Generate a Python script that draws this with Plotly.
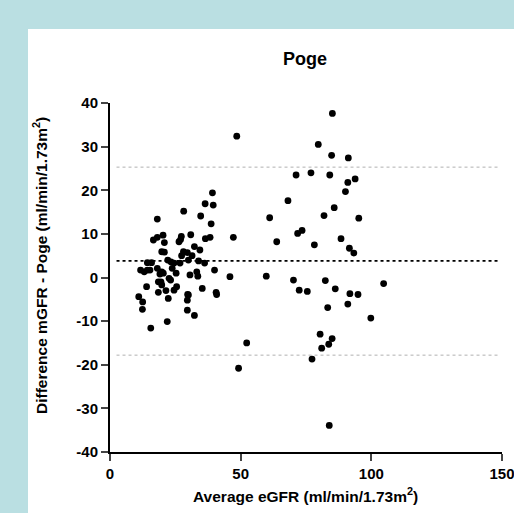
import plotly.graph_objects as go

# Average eGFR (x) and difference mGFR - Poge (y)
left_x = [39.2, 36.4, 39.5, 28.2, 18.1, 34.7, 38.7, 30.9, 27.3, 27.0, 20.3, 18.1, 16.6, 20.8, 36.5, 38.3,
          26.4, 32.3, 34.4, 19.8, 20.8, 28.1, 29.6, 27.4, 31.4, 22.1, 23.3, 26.8, 24.5, 30.0, 33.9, 36.2,
          14.3, 15.9, 40.0, 11.7, 13.1, 14.3, 15.3, 18.1, 23.8, 25.3, 22.6, 23.2, 30.6, 33.2, 33.6, 19.8,
          19.1, 20.4, 18.5, 19.5, 19.8, 14.0, 25.5, 35.3, 24.5, 21.4, 18.5, 40.6, 40.8, 30.0, 29.6, 22.3,
          11.0, 12.5, 12.4, 29.6, 32.3, 21.9, 15.6, 29.7]
left_y = [19.4, 16.9, 16.6, 15.2, 13.4, 14.1, 12.3, 9.8, 9.4, 8.7, 9.7, 9.2, 8.6, 8.0, 8.9, 9.2,
          8.2, 7.1, 6.3, 5.9, 5.8, 5.9, 5.7, 5.0, 5.0, 4.0, 3.6, 3.3, 3.3, 4.0, 3.8, 3.3,
          3.4, 3.4, 1.7, 1.7, 1.3, 1.7, 1.7, 2.1, 2.1, 1.0, -0.2, -0.6, 0.6, 1.3, 0.3, 1.3,
          0.8, 1.0, -1.0, -1.0, -1.7, -2.1, -2.1, -2.5, -2.9, -3.0, -3.4, -3.4, -3.9, -4.0, -5.2, -4.8,
          -4.4, -5.6, -7.3, -7.5, -8.7, -10.1, -11.6, -3.9]

mid_x = [48.5, 47.2, 45.9, 52.3, 49.2]
mid_y = [32.4, 9.2, 0.2, -15.0, -20.8]

right_x = [85.1, 79.7, 84.8, 91.2, 71.2, 76.9, 84.1, 93.8, 91.0, 90.1, 68.1, 85.8, 61.1, 81.9, 95.2,
           71.8, 73.5, 63.8, 78.2, 88.4, 91.6, 93.3, 59.8, 70.2, 72.4, 75.5, 82.4, 86.2, 104.7, 91.8,
           94.9, 91.0, 83.3, 99.8, 80.4, 85.0, 83.7, 81.0, 77.3, 83.9]
right_y = [37.6, 30.5, 28.0, 27.4, 23.5, 24.0, 23.5, 22.6, 21.8, 19.7, 17.6, 16.0, 13.7, 14.2, 13.6,
           10.1, 10.8, 8.2, 7.5, 8.9, 6.7, 5.6, 0.3, -0.6, -2.9, -3.2, -0.7, -2.6, -1.4, -3.7,
           -3.9, -6.1, -6.9, -9.3, -13.0, -14.0, -15.3, -16.2, -18.7, -33.9]

avg_egfr = left_x + mid_x + right_x
diff = left_y + mid_y + right_y

bias = 3.8
upper_loa = 25.3
lower_loa = -17.8
line_x = [2.5, 149.0]

x_ticks = [0, 50, 100, 150]
y_ticks = [-40, -30, -20, -10, 0, 10, 20, 30, 40]
y_tick_labels = ["-40", "-30", "-20", "-10", "0", "10", "20", "30", "40"]

title_text = "Poge"
x_title = "Average eGFR (ml/min/1.73m<sup>2</sup>)"
y_title = "Difference mGFR - Poge (ml/min/1.73m<sup>2</sup>)"

W, H = 514, 513
ML, MR, MT, MB = 110, 12, 103, 61
pw = W - ML - MR
ph = H - MT - MB


def px_x(p):
    return (p - ML) / pw


def px_y(p):
    return (MT + ph - p) / ph


fnt = dict(family="Liberation Sans, Arial, sans-serif", color="black")

fig = go.Figure()
fig.add_trace(go.Scatter(x=line_x, y=[upper_loa, upper_loa], mode="lines",
                         line=dict(color="#b0b0b0", width=1, dash="dot"), hoverinfo="skip"))
fig.add_trace(go.Scatter(x=line_x, y=[lower_loa, lower_loa], mode="lines",
                         line=dict(color="#b0b0b0", width=1, dash="dot"), hoverinfo="skip"))
fig.add_trace(go.Scatter(x=line_x, y=[bias, bias], mode="lines",
                         line=dict(color="black", width=1.6, dash="dot"), hoverinfo="skip"))
fig.add_trace(go.Scatter(x=avg_egfr, y=diff, mode="markers",
                         marker=dict(color="black", size=6.8)))

# white panel: left edge at px 28, top edge at px 29, to the right/bottom of the figure
fig.add_shape(type="rect", xref="paper", yref="paper",
              x0=px_x(28), x1=px_x(W), y0=px_y(H), y1=px_y(29),
              fillcolor="white", line=dict(width=0), layer="below")

fig.add_annotation(text=f"<b>{title_text}</b>", xref="paper", yref="paper",
                   x=px_x(305), y=px_y(59), xanchor="center", yanchor="middle",
                   showarrow=False, font=dict(size=18, **fnt))
fig.add_annotation(text=f"<b>{x_title}</b>", xref="paper", yref="paper",
                   x=px_x(305), y=px_y(495), xanchor="center", yanchor="middle",
                   showarrow=False, font=dict(size=15.5, **fnt))
fig.add_annotation(text=f"<b>{y_title}</b>", xref="paper", yref="paper",
                   x=px_x(40), y=px_y(266), xanchor="center", yanchor="middle", textangle=-90,
                   showarrow=False, font=dict(size=15.5, **fnt))

fig.update_layout(
    width=W, height=H,
    margin=dict(l=ML, r=MR, t=MT, b=MB, autoexpand=False),
    paper_bgcolor="#badfe2",
    plot_bgcolor="white",
    showlegend=False,
    xaxis=dict(range=[0, 150], tickvals=x_ticks, ticks="outside", ticklen=7, tickwidth=2,
               showline=True, linewidth=2, linecolor="black", showgrid=False, zeroline=False,
               automargin=False, ticklabeloverflow="allow",
               tickfont=dict(size=15, weight="bold", **fnt)),
    yaxis=dict(range=[-40, 40], tickvals=y_ticks, ticktext=y_tick_labels, ticks="outside",
               ticklen=7, tickwidth=2,
               showline=True, linewidth=2, linecolor="black", showgrid=False, zeroline=False,
               automargin=False, ticklabeloverflow="allow",
               tickfont=dict(size=15, weight="bold", **fnt)),
)

fig.write_html("out.html", config={"displayModeBar": False},
               post_script="document.body.style.margin='0';document.body.style.overflow='hidden';")
